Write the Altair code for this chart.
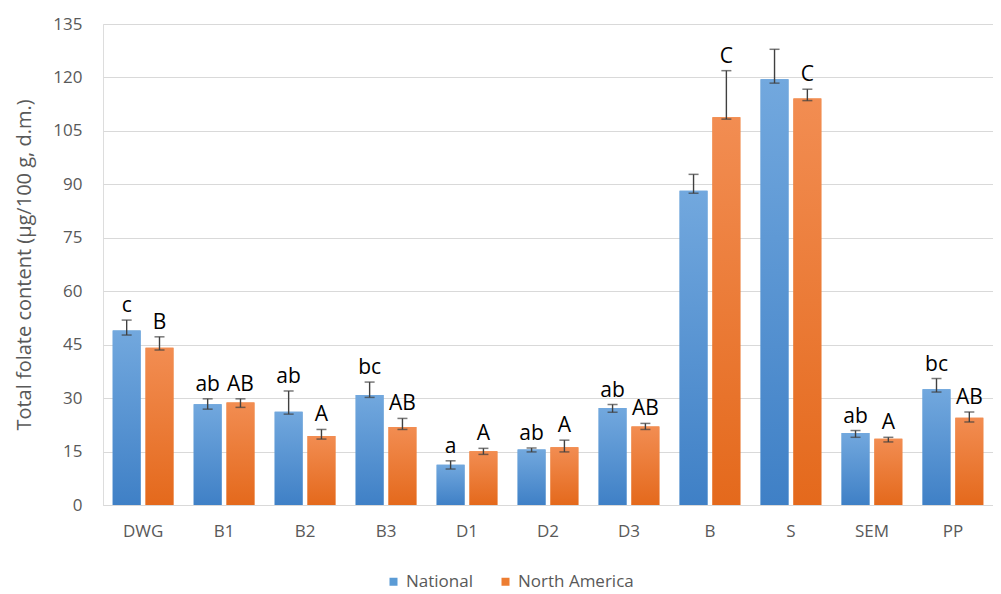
import altair as alt
import pandas as pd

categories = ["DWG", "B1", "B2", "B3", "D1", "D2", "D3", "B", "S", "SEM", "PP"]
series_names = ["National", "North America"]

national_vals = [49.0, 28.3, 26.2, 30.9, 11.3, 15.6, 27.2, 88.2, 119.5, 20.2, 32.5]
national_hi = [51.9, 29.8, 32.0, 34.5, 12.4, 16.0, 28.2, 92.8, 127.9, 20.9, 35.5]
national_lo = [47.7, 26.9, 25.5, 30.2, 10.1, 14.9, 26.0, 87.5, 118.4, 19.0, 31.7]
national_letters = ["c", "ab", "ab", "bc", "a", "ab", "ab", "", "", "ab", "bc"]

na_vals = [44.1, 28.8, 19.4, 21.9, 15.1, 16.2, 22.0, 108.8, 114.1, 18.6, 24.5]
na_hi = [47.2, 29.8, 21.2, 24.3, 15.9, 18.2, 22.9, 121.9, 116.7, 19.0, 26.1]
na_lo = [43.5, 27.4, 18.5, 21.2, 14.2, 14.9, 21.2, 108.3, 113.5, 17.7, 23.3]
na_letters = ["B", "AB", "A", "AB", "A", "A", "AB", "C", "C", "A", "AB"]

y_ticks = [0, 15, 30, 45, 60, 75, 90, 105, 120, 135]

rows = []
for i, c in enumerate(categories):
    rows.append(dict(cat=c, series="National", value=national_vals[i],
                     hi=national_hi[i], lo=national_lo[i], letter=national_letters[i]))
    rows.append(dict(cat=c, series="North America", value=na_vals[i],
                     hi=na_hi[i], lo=na_lo[i], letter=na_letters[i]))
df = pd.DataFrame(rows)

FONT = "Open Sans"
GREY = "#595959"

x_enc = alt.X("cat:N", sort=categories,
              scale=alt.Scale(paddingInner=0.25, paddingOuter=0.12),
              axis=alt.Axis(title=None, labelAngle=0, ticks=False, domainColor="#d9d9d9",
                            labelPadding=18, labelFontSize=17, labelColor=GREY, labelFont=FONT))
xo_enc = alt.XOffset("series:N", scale=alt.Scale(domain=series_names, paddingInner=0.15))
y_scale = alt.Scale(domain=[0, 135], nice=False)
y_enc = alt.Y("value:Q", scale=y_scale,
              axis=alt.Axis(values=y_ticks, domain=False, ticks=False, gridColor="#d9d9d9",
                            labelColor=GREY, labelFontSize=17, labelPadding=21, labelFont=FONT,
                            title="Total folate content (µg/100 g, d.m.)", titleFontSize=20,
                            titleColor=GREY, titleFontWeight="normal", titleFont=FONT,
                            titlePadding=18))

base = alt.Chart(df).encode(x=x_enc, xOffset=xo_enc)

bars = base.mark_bar().encode(
    y=y_enc,
    color=alt.Color("series:N", scale=alt.Scale(domain=series_names, range=["#5b9bd5", "#ed7d31"]),
                    legend=alt.Legend(title=None, orient="none", direction="horizontal",
                                      legendX=282, legendY=549, symbolType="square",
                                      symbolSize=64, labelFontSize=17, labelColor=GREY,
                                      labelFont=FONT, columnPadding=24, symbolStrokeWidth=0)))

grad_blue = alt.LinearGradient(gradient="linear", x1=0, x2=0, y1=0, y2=1,
                               stops=[alt.GradientStop(color="#72a8de", offset=0),
                                      alt.GradientStop(color="#3f80c6", offset=1)])
grad_orange = alt.LinearGradient(gradient="linear", x1=0, x2=0, y1=0, y2=1,
                                 stops=[alt.GradientStop(color="#f28d52", offset=0),
                                        alt.GradientStop(color="#e4691c", offset=1)])

bars_nat = base.transform_filter(alt.datum.series == "National").mark_bar(fill=grad_blue).encode(
    y=alt.Y("value:Q", scale=y_scale))
bars_na = base.transform_filter(alt.datum.series == "North America").mark_bar(fill=grad_orange).encode(
    y=alt.Y("value:Q", scale=y_scale))

err = base.mark_rule(color="#404040", strokeWidth=1.4).encode(
    y=alt.Y("lo:Q", scale=y_scale), y2="hi:Q")
cap_hi = base.mark_tick(color="#404040", size=10, thickness=1.5).encode(
    y=alt.Y("hi:Q", scale=y_scale))
cap_lo = base.mark_tick(color="#404040", size=10, thickness=1.5).encode(
    y=alt.Y("lo:Q", scale=y_scale))

labels = base.mark_text(baseline="alphabetic", dy=-8, fontSize=21, font=FONT, color="#000000").encode(
    y=alt.Y("hi:Q", scale=y_scale), text="letter:N")

chart = alt.layer(bars, bars_nat, bars_na, err, cap_hi, cap_lo, labels).properties(
    width=890, height=481,
    autosize=alt.AutoSizeParams(type="none"),
    padding={"left": 95, "top": 16, "right": 0, "bottom": 89},
).configure_view(stroke=None).configure(font=FONT)

chart.save("out.html", embed_options={"renderer": "svg", "actions": False})
